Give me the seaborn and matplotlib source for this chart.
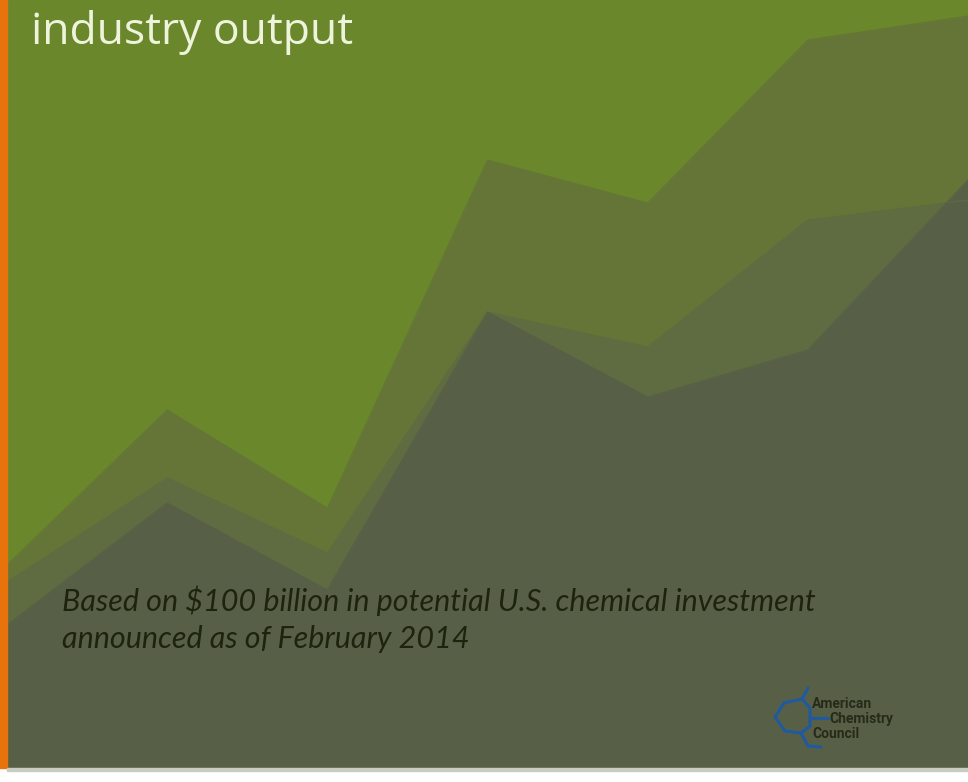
import matplotlib
matplotlib.use("Agg")
import matplotlib.pyplot as plt
from matplotlib.patches import Rectangle
from matplotlib.lines import Line2D
import pandas as pd
import seaborn as sns

# --- data -------------------------------------------------------------
periods = [0, 1, 2, 3, 4, 5, 6]
scenario_high = [203, 358, 260, 608, 565, 728, 752]
scenario_mid = [186, 290, 215, 456, 421, 548, 568]
scenario_low = [143, 265, 178, 456, 371, 418, 588]

title_text = "industry output"
note_lines = ["Based on $100 billion in potential U.S. chemical investment",
              "announced as of February 2014"]

# --- styling -----------------------------------------------------------
W, H = 968, 782
BG_GREEN = "#6a872b"
LAYER_COLORS = ["#647537", "#5f6b41", "#576046"]
ORANGE = "#e8730c"

sns.set_theme(style="white")
plt.rcParams["font.family"] = ["Open Sans", "DejaVu Sans"]

fig = plt.figure(figsize=(W / 100, H / 100), dpi=100, facecolor="white")

panel_bottom = 14  # px of white strip below the green panel
ax = fig.add_axes([7 / W, panel_bottom / H, (W - 7) / W, (H - panel_bottom) / H])
ax.set_facecolor(BG_GREEN)

df = pd.DataFrame({
    "period": periods * 3,
    "value": scenario_high + scenario_mid + scenario_low,
    "scenario": ["high"] * 7 + ["mid"] * 7 + ["low"] * 7,
})

for name, color in zip(["high", "mid", "low"], LAYER_COLORS):
    sub = df[df["scenario"] == name]
    sns.lineplot(data=sub, x="period", y="value", ax=ax, color=color,
                 linewidth=0.8, legend=False)
    ax.fill_between(sub["period"], 0, sub["value"], color=color, linewidth=0)

ax.set_xlim(0, 6)
ax.set_ylim(0, H - panel_bottom)
ax.set_xlabel("")
ax.set_ylabel("")
ax.set_xticks([])
ax.set_yticks([])
for s in ax.spines.values():
    s.set_visible(False)

# orange accent bar on the left edge
fig.patches.append(Rectangle((0, panel_bottom / H), 7 / W, (H - panel_bottom) / H,
                             transform=fig.transFigure, color=ORANGE, zorder=5))
# soft shadow under the panel
fig.patches.append(Rectangle((7 / W, (panel_bottom - 3) / H), (W - 7) / W, 3 / H,
                             transform=fig.transFigure, color="#c9ccc0", zorder=5))


def px(x, y):
    return x / W, 1 - y / H


# title
fig.text(*px(31, 44), title_text, fontsize=32, color="#eef4dc",
         family=["Open Sans", "DejaVu Sans"], va="baseline", ha="left")

# footnote
note_kw = dict(fontsize=22, style="italic", color="#1d230f",
               family=["Lato", "DejaVu Sans"], va="baseline")
fig.text(*px(62, 611), note_lines[0], **note_kw)
fig.text(*px(62, 648), note_lines[1], **note_kw)

# American Chemistry Council mark
blue = "#1f5aa0"
paths = [
    [(808, 688), (802, 699)],
    [(802, 699), (784, 703), (775, 717), (785, 731), (801, 733)],
    [(801, 733), (808, 746), (821, 747)],
    [(802, 699), (810, 708), (810, 726), (801, 733)],
    [(810, 718), (828, 718)],
]
for p in paths:
    xs = [q[0] / W for q in p]
    ys = [1 - q[1] / H for q in p]
    fig.lines.append(Line2D(xs, ys, transform=fig.transFigure, color=blue,
                            linewidth=2.2, solid_capstyle="round", zorder=6))

logo_kw = dict(fontsize=10, color="#262a18", weight="bold",
               family=["Roboto", "DejaVu Sans"], va="baseline", zorder=6)
fig.text(*px(812, 708), "American", **logo_kw)
fig.text(*px(829, 723), "Chemistry", **logo_kw)
fig.text(*px(812, 738), "Council", **logo_kw)

fig.savefig("out.png", dpi=100, facecolor="white")
